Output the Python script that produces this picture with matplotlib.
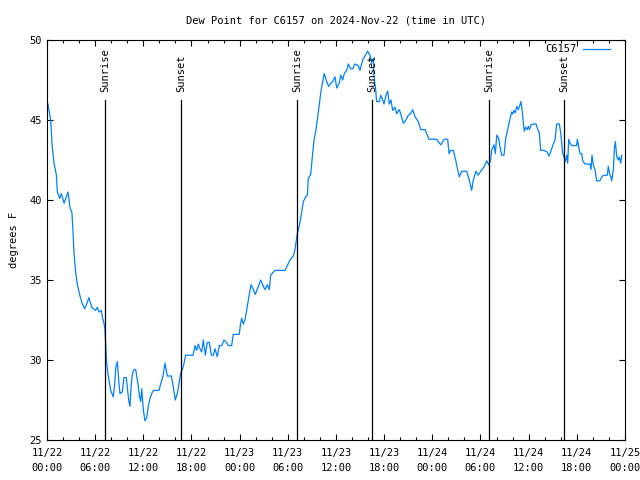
import matplotlib
matplotlib.use("Agg")
import matplotlib.pyplot as plt

# hours since 2024-11-22 00:00 UTC, dew point (F)
hours = [
    0.12, 0.46, 0.62, 0.87, 1.16, 1.29, 1.58, 1.79, 2.12, 2.62, 2.87, 3.11, 3.24, 3.36, 3.57,
    3.78, 4.11, 4.40, 4.69, 4.94, 5.23, 5.56, 6.06, 6.27, 6.48, 6.77, 6.93, 7.10, 7.22, 7.31,
    7.43, 7.60, 7.93, 8.26, 8.43, 8.56, 8.76, 8.97, 9.09, 9.38, 9.59, 9.88, 10.00, 10.20, 10.34,
    10.50, 10.67, 10.84, 11.05, 11.33, 11.50, 11.67, 11.80, 12.00, 12.20, 12.42, 12.62, 12.83,
    13.12, 13.33, 13.95, 14.16, 14.45, 14.70, 14.99, 15.49, 15.74, 15.98, 16.23, 16.44, 16.65,
    16.86, 17.07, 17.27, 18.19, 18.44, 18.65, 18.85, 19.06, 19.27, 19.47, 19.72, 19.97, 20.22,
    20.47, 20.72, 20.93, 21.21, 21.46, 21.76, 22.05, 22.38, 22.58, 23.00, 23.21, 23.95, 24.12,
    24.25, 24.45, 24.66, 24.87, 25.16, 25.41, 25.62, 25.95, 26.32, 26.62, 26.95, 27.15, 27.44,
    27.69, 27.86, 28.40, 29.65, 29.93, 30.27, 30.68, 30.89, 31.18, 31.43, 31.72, 31.93, 32.22,
    32.43, 32.55, 32.85, 33.05, 33.26, 33.51, 33.67, 33.92, 34.13, 34.34, 34.54, 34.84, 35.09,
    35.34, 35.59, 35.87, 36.09, 36.41, 36.59, 36.84, 37.03, 37.33, 37.54, 37.83, 38.08, 38.37,
    38.78, 38.99, 39.32, 39.61, 39.94, 40.23, 40.44, 40.65, 40.73, 40.94, 41.06, 41.39, 41.57,
    41.82, 41.98, 42.23, 42.44, 42.64, 42.85, 43.06, 43.35, 43.56, 43.89, 44.10, 44.38, 44.72,
    45.00, 45.30, 45.55, 45.84, 46.25, 46.55, 47.09, 47.37, 47.58, 48.54, 48.87, 49.08, 49.29,
    49.49, 49.91, 50.08, 50.29, 50.61, 50.91, 51.11, 51.36, 51.66, 52.28, 52.48, 52.69, 52.90,
    53.10, 53.44, 53.72, 54.02, 54.35, 54.56, 54.77, 55.02, 55.27, 55.39, 55.68, 55.85, 56.02,
    56.27, 56.43, 56.64, 56.93, 57.14, 57.34, 57.59, 57.88, 58.03, 58.17, 58.34, 58.51, 58.72,
    58.92, 59.04, 59.21, 59.34, 59.46, 59.63, 59.80, 59.96, 60.10, 60.29, 60.58, 60.91, 61.07,
    61.32, 61.50, 61.91, 62.32, 62.49, 62.66, 62.87, 63.07, 63.28, 63.49, 63.82, 63.99, 64.11,
    64.24, 64.41, 64.57, 64.74, 64.86, 64.99, 65.15, 65.36, 65.98, 66.06, 66.23, 66.40, 66.60,
    66.73, 67.02, 67.64, 67.76, 67.89, 68.05, 68.26, 68.47, 68.88, 69.17, 69.51, 69.79, 69.92,
    70.05, 70.22, 70.34, 70.55, 70.67, 70.80, 70.97, 71.17, 71.30, 71.47, 71.60,
]
dewpoint = [
    46.0, 45.0, 43.5, 42.3, 41.6, 40.5, 40.1, 40.4, 39.8, 40.5, 39.5, 39.2, 38.0, 36.7, 35.5,
    34.7, 34.0, 33.5, 33.2, 33.5, 33.9, 33.3, 33.1, 33.3, 33.0, 33.1, 32.6, 32.3, 31.9, 31.0,
    29.8, 29.1, 28.1, 27.7, 28.5, 29.5, 29.9, 28.5, 27.9, 28.0, 28.9, 28.9, 28.3, 27.4, 27.1,
    28.5, 29.2, 29.4, 29.4, 28.5, 27.8, 27.4, 28.2, 26.9, 26.2, 26.4, 27.1, 27.6,
    28.0, 28.1, 28.1, 28.5, 29.0, 29.8, 29.0, 29.0, 28.3, 27.5, 27.9, 28.5, 29.2,
    29.4, 29.8, 30.3, 30.3, 30.9, 30.6, 31.0, 30.7, 30.5, 31.25, 30.3, 31.1, 31.1,
    30.3, 30.3, 30.7, 30.2, 30.9, 30.9, 31.25, 31.1, 30.9, 30.9, 31.6, 31.6, 32.3,
    32.6, 32.25, 32.5, 33.1, 34.0, 34.7, 34.5, 34.1, 34.6, 35.0, 34.6, 34.4, 34.7,
    34.4, 35.3, 35.6, 35.6, 35.9, 36.25, 36.5, 36.9, 37.9, 38.4, 39.2, 39.9, 40.2,
    40.3, 41.35, 41.6, 42.7, 43.75, 44.4, 45.0, 46.0, 46.8, 47.4, 47.9, 47.4, 47.1,
    47.3, 47.4, 47.7, 47.0, 47.3, 47.8, 47.5, 47.9, 48.1, 48.5, 48.2, 48.2, 48.5,
    48.4, 48.1, 48.75, 49.0, 49.3, 49.05, 48.6, 48.85, 47.7, 46.9, 46.15, 46.15, 46.55,
    46.25, 46.0, 46.55, 46.8, 46.0, 46.25, 45.6, 45.8, 45.4, 45.65, 45.3, 44.8, 45.0,
    45.3, 45.4, 45.65, 45.2, 44.9, 44.4, 44.4, 44.05, 43.8, 43.8, 43.55, 43.45, 43.65,
    43.8, 43.8, 42.9, 43.1, 43.1, 42.5, 42.0, 41.45, 41.8, 41.8, 41.45, 41.05, 40.6,
    41.25, 41.8, 41.55, 41.8, 42.0, 42.2, 42.45, 42.2, 42.5, 43.1, 43.45, 42.9, 44.05,
    43.85, 43.3, 42.8, 42.8, 43.85, 44.3, 44.9, 45.5, 45.38, 45.6, 45.45, 45.85, 45.65,
    45.95, 46.15, 45.5, 44.8, 44.3, 44.55, 44.4, 44.6, 44.4, 44.7, 44.75, 44.75, 44.5,
    44.2, 43.1, 43.1, 43.0, 42.75, 42.9, 43.2, 43.5, 43.75, 44.75, 44.75, 44.2, 43.55,
    42.9, 42.7, 42.4, 42.8, 42.3, 43.8, 43.55, 43.4, 43.4, 43.8, 43.35, 42.9, 42.9,
    42.45, 42.25, 42.25, 41.9, 42.8, 42.2, 41.9, 41.2, 41.2, 41.5, 41.55, 41.55, 42.1,
    41.7, 41.45, 41.2, 41.9, 43.2, 43.65, 42.7, 42.5, 42.7, 42.3, 42.8,
]

sun_hours = [7.25, 16.72, 31.17, 40.52, 55.05, 64.43]
sun_labels = ["Sunrise", "Sunset", "Sunrise", "Sunset", "Sunrise", "Sunset"]

tick_hours = list(range(0, 73, 6))
tick_labels = ["11/22\n00:00", "11/22\n06:00", "11/22\n12:00", "11/22\n18:00",
               "11/23\n00:00", "11/23\n06:00", "11/23\n12:00", "11/23\n18:00",
               "11/24\n00:00", "11/24\n06:00", "11/24\n12:00", "11/24\n18:00",
               "11/25\n00:00"]

plt.rcParams["font.family"] = "DejaVu Sans Mono"
plt.rcParams["font.size"] = 7.5

fig = plt.figure(figsize=(6.4, 4.8), dpi=100)
ax = fig.add_axes([47 / 640, 40 / 480, 578 / 640, 400 / 480])

ax.plot(hours, dewpoint, color="#0080ff", lw=0.9, label="C6157")

# sunrise / sunset markers
for h, lab in zip(sun_hours, sun_labels):
    ax.plot([h, h], [25, 46.25], color="black", lw=0.9)
    ax.text(h, 46.75, lab, rotation=90, ha="center", va="bottom")

ax.set_xlim(0, 72)
ax.set_ylim(25, 50)
ax.set_xticks(tick_hours)
ax.set_xticklabels(tick_labels, linespacing=1.55)
ax.set_xticks(range(0, 73, 2), minor=True)
ax.set_yticks(range(25, 51, 5))
ax.tick_params(which="both", direction="in", top=True, right=True)
ax.tick_params(axis="x", pad=6)
ax.tick_params(which="major", length=4.5, width=0.8)
ax.tick_params(which="minor", length=2.5, width=0.8)
for s in ax.spines.values():
    s.set_linewidth(0.8)

ax.set_ylabel("degrees F", labelpad=8)
ax.set_title("Dew Point for C6157 on 2024-Nov-22 (time in UTC)", fontsize=7.5, pad=12)
ax.legend(loc="upper right", bbox_to_anchor=(0.981, 1.0), frameon=False,
          markerfirst=False, handlelength=2.6, borderaxespad=0.0, handletextpad=0.6,
          fontsize=7.5)

fig.savefig("out.png", dpi=100)
